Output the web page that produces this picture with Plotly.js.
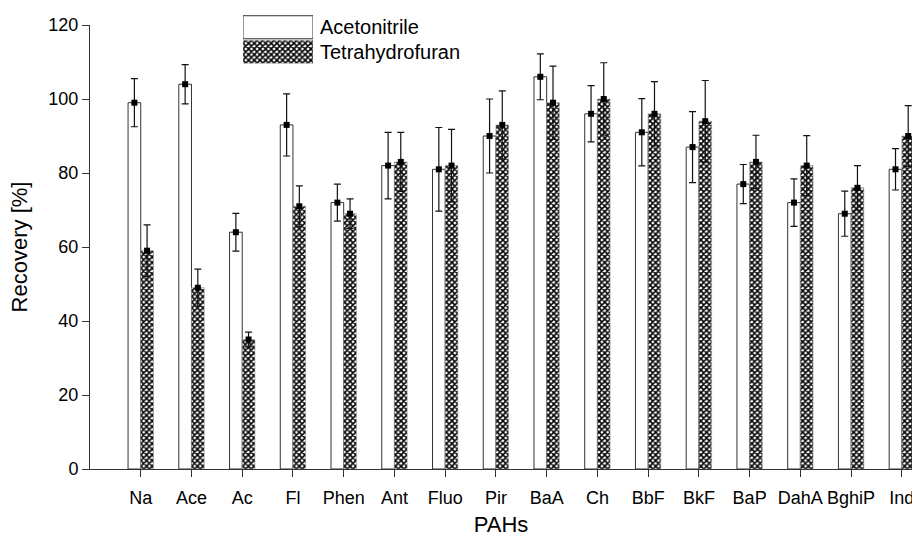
<!DOCTYPE html>
<html>
<head>
<meta charset="utf-8">
<script src="https://cdn.plot.ly/plotly-3.0.1.min.js"></script>
<style>html,body{margin:0;padding:0;background:#fff;}#chart{width:912px;height:539px;}</style>
</head>
<body>
<div id="chart"></div>
<script>
const categories = ['Na','Ace','Ac','Fl','Phen','Ant','Fluo','Pir','BaA','Ch','BbF','BkF','BaP','DahA','BghiP','Ind'];
const seriesNames = ['Acetonitrile','Tetrahydrofuran'];
const acetonitrile = [99,104,64,93,72,82,81,90,106,96,91,87,77,72,69,81];
const acetonitrileErr = [6.5,5.3,5.1,8.4,5,9,11.3,10,6.2,7.6,9.1,9.6,5.3,6.4,6.1,5.6];
const thf = [59,49,35,71,69,83,82,93,99,100,96,94,83,82,76,90];
const thfErr = [7,5,2,5.5,4,8,9.8,9.2,9.9,9.8,8.7,11,7.2,8.1,6,8.2];
const yTicks = [0,20,40,60,80,100,120];

const idx = categories.map((c,i)=>i);
const BW = 0.25;
const FONT = 'Liberation Sans, Arial, sans-serif';
const hatch = {shape:'x', fgcolor:'#000', bgcolor:'#fff', size:4, solidity:0.62};

const traces = [
  {type:'bar', x:idx, y:acetonitrile, width:BW, offset:-BW, name:seriesNames[0],
   marker:{color:'#fff', line:{color:'#333', width:1}}, showlegend:false, hoverinfo:'skip'},
  {type:'bar', x:idx, y:thf, width:BW, offset:0, name:seriesNames[1],
   marker:{color:'#fff', pattern:hatch, line:{color:'#999', width:0.6}}, showlegend:false, hoverinfo:'skip'},
  {type:'scatter', mode:'markers', x:idx.map(i=>i-BW/2), y:acetonitrile,
   marker:{symbol:'square', size:6, color:'#000'},
   error_y:{type:'data', array:acetonitrileErr, visible:true, color:'#111', thickness:1.2, width:3.5},
   showlegend:false, cliponaxis:true},
  {type:'scatter', mode:'markers', x:idx.map(i=>i+BW/2), y:thf,
   marker:{symbol:'square', size:6, color:'#000'},
   error_y:{type:'data', array:thfErr, visible:true, color:'#111', thickness:1.2, width:3.5},
   showlegend:false, cliponaxis:true},
  // legend swatches
  {type:'bar', orientation:'h', x:[1], y:[seriesNames[0]], width:0.94, xaxis:'x2', yaxis:'y2',
   marker:{color:'#fff', line:{color:'#333', width:1}}, showlegend:false, hoverinfo:'skip'},
  {type:'bar', orientation:'h', x:[1], y:[seriesNames[1]], width:0.94, xaxis:'x2', yaxis:'y2',
   marker:{color:'#fff', pattern:hatch, line:{color:'#999', width:0.6}}, showlegend:false, hoverinfo:'skip'}
];

const layout = {
  width:912, height:539,
  margin:{l:90, r:0, t:15, b:70},
  paper_bgcolor:'#fff', plot_bgcolor:'#fff',
  font:{family:FONT, color:'#000', size:18},
  showlegend:false,
  xaxis:{
    range:[-1, 15.2], tickvals:idx, ticktext:categories,
    showline:true, linecolor:'#333', linewidth:1, ticks:'outside', ticklen:7, tickcolor:'#333',
    showgrid:false, zeroline:false, tickfont:{size:18}, ticklabelstandoff:5,
    ticklabeloverflow:'allow',
    title:{text:'PAHs', font:{size:22}, standoff:10}
  },
  yaxis:{
    domain:[0, 444/454],
    range:[0,120], tickvals:yTicks,
    showline:true, linecolor:'#333', linewidth:1, ticks:'outside', ticklen:7, tickcolor:'#333',
    showgrid:false, zeroline:false, tickfont:{size:18},
    title:{text:'Recovery [%]', font:{size:22}, standoff:14}
  },
  xaxis2:{domain:[(243-90)/822, (313-90)/822], anchor:'y2', range:[0,1], visible:false, fixedrange:true},
  yaxis2:{domain:[(469-64)/454, 1], anchor:'x2', side:'right', categoryorder:'array',
    categoryarray:[seriesNames[1], seriesNames[0]], range:[-0.5,1.5],
    showline:false, showgrid:false, zeroline:false, ticks:'', tickfont:{size:20}, ticklabelstandoff:6},
  bargap:0
};

Plotly.newPlot('chart', traces, layout, {displayModeBar:false, staticPlot:true});
</script>
</body>
</html>
